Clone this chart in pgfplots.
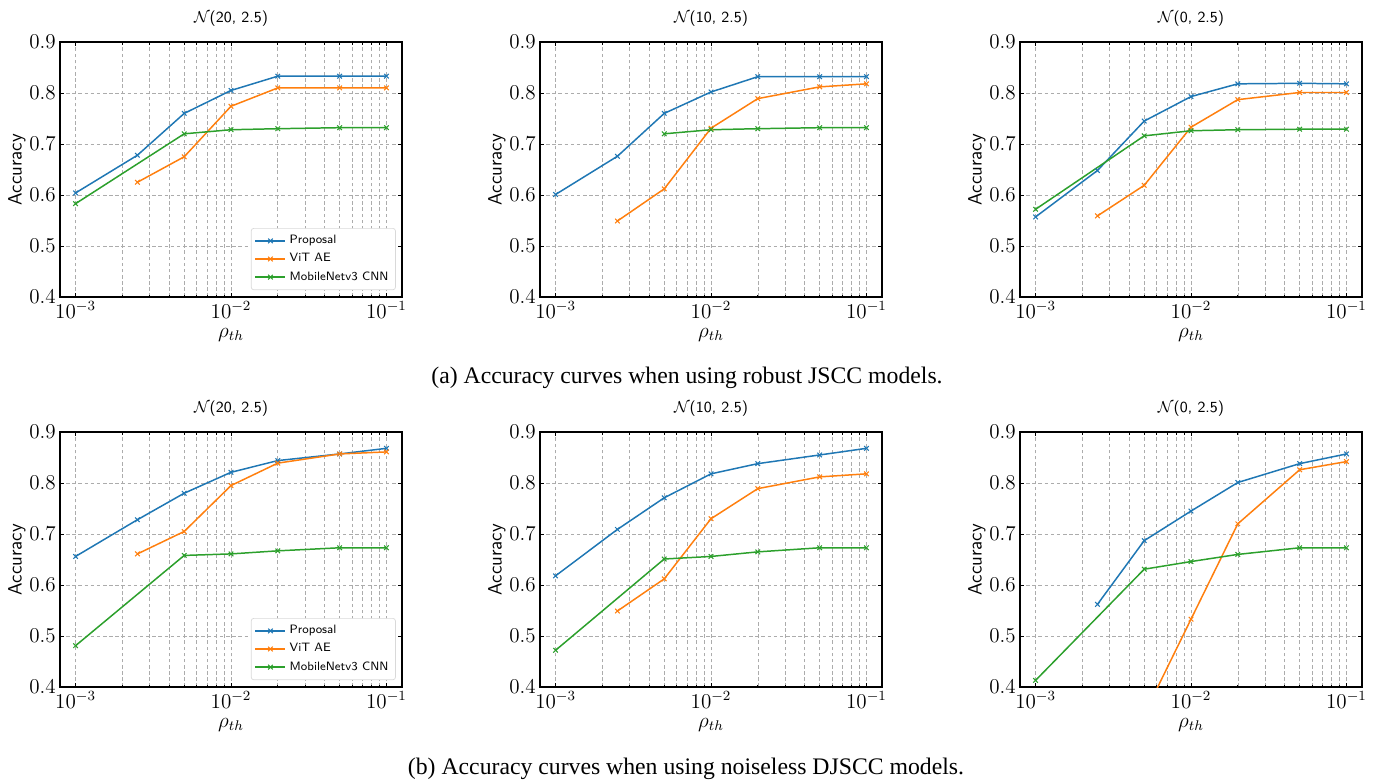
\documentclass[border=0pt]{standalone}
\usepackage{fontspec}
\setmainfont{Liberation Serif}
\usepackage{pgfplots}
\pgfplotsset{compat=1.18}

\definecolor{tabblue}{HTML}{1F77B4}
\definecolor{taborange}{HTML}{FF7F0E}
\definecolor{tabgreen}{HTML}{2CA02C}

% 1 px of the reference = 0.2 mm
\pgfplotsset{
  accpanel/.style={
    scale only axis, width=68.4mm, height=51mm,
    xmin=7.943e-4, xmax=0.12589,
    ymin=0.4, ymax=0.9,
    xtick={0.001,0.01,0.1},
    ytick={0.4,0.5,0.6,0.7,0.8,0.9},
    yticklabel style={/pgf/number format/fixed,/pgf/number format/precision=1,/pgf/number format/fixed zerofill},
    tick label style={font=\fontsize{12}{14}\selectfont},
    xticklabel style={yshift=0.3mm},
    yticklabel style={xshift=0.4mm},
    grid=both,
    major grid style={dash pattern=on 2pt off 1.5pt, gray!65, line width=0.35pt},
    minor grid style={dash pattern=on 2pt off 1.5pt, gray!65, line width=0.35pt},
    tick align=inside, major tick length=0.8mm, minor tick length=0.5mm,
    tick style={black, line width=0.4pt},
    axis line style={line width=0.6pt},
    xlabel={$\rho_{th}$},
    xlabel style={font=\fontsize{12}{14}\selectfont, at={(axis description cs:0.5,-0.149)}, anchor=center},
    ylabel={Accuracy},
    ylabel style={font=\sffamily\fontsize{11}{13}\selectfont, at={(axis description cs:-0.126,0.5)}, anchor=center},
    title style={font=\sffamily\fontsize{8.8}{10}\selectfont, at={(0.5,1)}, anchor=center, yshift=2.5mm},
    legend style={font=\sffamily\fontsize{6.9}{8}\selectfont, at={(0.982,0.027)}, anchor=south east,
      draw=gray!30, rounded corners=1.5pt, row sep=0pt, inner sep=2pt},
    legend cell align=left,
  },
}
\tikzset{
  serA/.style={color=tabblue, line width=0.85pt, mark=x, mark size=0.65mm, mark options={line width=0.6pt}},
  serB/.style={color=taborange, line width=0.85pt, mark=x, mark size=0.65mm, mark options={line width=0.6pt}},
  serC/.style={color=tabgreen, line width=0.85pt, mark=x, mark size=0.65mm, mark options={line width=0.6pt}},
}

\begin{document}
\begin{tikzpicture}
% ---------- (a) robust JSCC ----------
\begin{semilogxaxis}[accpanel, at={(12mm,97.2mm)}, anchor=south west, title={$\mathcal{N}$(20, 2.5)}]
\addplot[serA] coordinates {(0.001,0.604) (0.0025,0.678) (0.005,0.760) (0.01,0.805) (0.02,0.833) (0.05,0.833) (0.1,0.833)};
\addplot[serB] coordinates {(0.0025,0.625) (0.005,0.675) (0.01,0.774) (0.02,0.810) (0.05,0.810) (0.1,0.810)};
\addplot[serC] coordinates {(0.001,0.583) (0.005,0.720) (0.01,0.728) (0.02,0.730) (0.05,0.732) (0.1,0.732)};
\legend{Proposal, ViT AE, MobileNetv3 CNN}
\end{semilogxaxis}
\begin{semilogxaxis}[accpanel, at={(108mm,97.2mm)}, anchor=south west, title={$\mathcal{N}$(10, 2.5)}]
\addplot[serA] coordinates {(0.001,0.601) (0.0025,0.676) (0.005,0.760) (0.01,0.802) (0.02,0.832) (0.05,0.832) (0.1,0.832)};
\addplot[serB] coordinates {(0.0025,0.549) (0.005,0.612) (0.01,0.731) (0.02,0.789) (0.05,0.812) (0.1,0.818)};
\addplot[serC] coordinates {(0.005,0.720) (0.01,0.728) (0.02,0.730) (0.05,0.732) (0.1,0.732)};
\end{semilogxaxis}
\begin{semilogxaxis}[accpanel, at={(204mm,97.2mm)}, anchor=south west, title={$\mathcal{N}$(0, 2.5)}]
\addplot[serA] coordinates {(0.001,0.557) (0.0025,0.648) (0.005,0.745) (0.01,0.793) (0.02,0.818) (0.05,0.819) (0.1,0.818)};
\addplot[serB] coordinates {(0.0025,0.559) (0.005,0.619) (0.01,0.733) (0.02,0.787) (0.05,0.801) (0.1,0.801)};
\addplot[serC] coordinates {(0.001,0.572) (0.005,0.716) (0.01,0.726) (0.02,0.728) (0.05,0.729) (0.1,0.729)};
\end{semilogxaxis}
% ---------- (b) noiseless DJSCC ----------
\begin{semilogxaxis}[accpanel, at={(12mm,19.2mm)}, anchor=south west, title={$\mathcal{N}$(20, 2.5)}]
\addplot[serA] coordinates {(0.001,0.656) (0.0025,0.728) (0.005,0.780) (0.01,0.821) (0.02,0.844) (0.05,0.857) (0.1,0.868)};
\addplot[serB] coordinates {(0.0025,0.661) (0.005,0.705) (0.01,0.795) (0.02,0.839) (0.05,0.857) (0.1,0.861)};
\addplot[serC] coordinates {(0.001,0.481) (0.005,0.658) (0.01,0.661) (0.02,0.667) (0.05,0.673) (0.1,0.673)};
\legend{Proposal, ViT AE, MobileNetv3 CNN}
\end{semilogxaxis}
\begin{semilogxaxis}[accpanel, at={(108mm,19.2mm)}, anchor=south west, title={$\mathcal{N}$(10, 2.5)}]
\addplot[serA] coordinates {(0.001,0.618) (0.0025,0.709) (0.005,0.771) (0.01,0.818) (0.02,0.838) (0.05,0.855) (0.1,0.868)};
\addplot[serB] coordinates {(0.0025,0.549) (0.005,0.612) (0.01,0.730) (0.02,0.789) (0.05,0.812) (0.1,0.818)};
\addplot[serC] coordinates {(0.001,0.472) (0.005,0.651) (0.01,0.656) (0.02,0.665) (0.05,0.673) (0.1,0.673)};
\end{semilogxaxis}
\begin{semilogxaxis}[accpanel, at={(204mm,19.2mm)}, anchor=south west, title={$\mathcal{N}$(0, 2.5)}]
\addplot[serA] coordinates {(0.0025,0.562) (0.005,0.687) (0.01,0.745) (0.02,0.801) (0.05,0.838) (0.1,0.857)};
\addplot[serB] coordinates {(0.005,0.346) (0.01,0.533) (0.02,0.720) (0.05,0.826) (0.1,0.842)};
\addplot[serC] coordinates {(0.001,0.413) (0.005,0.631) (0.01,0.646) (0.02,0.660) (0.05,0.673) (0.1,0.673)};
\end{semilogxaxis}
% captions
\node[font=\fontsize{13.5}{16}\selectfont] at (137.4mm,81mm) {(a) Accuracy curves when using robust JSCC models.};
\node[font=\fontsize{13.5}{16}\selectfont] at (137.2mm,2.8mm) {(b) Accuracy curves when using noiseless DJSCC models.};
\pgfresetboundingbox
\path (0,0) rectangle (274.6mm,156.6mm);
\end{tikzpicture}
\end{document}
